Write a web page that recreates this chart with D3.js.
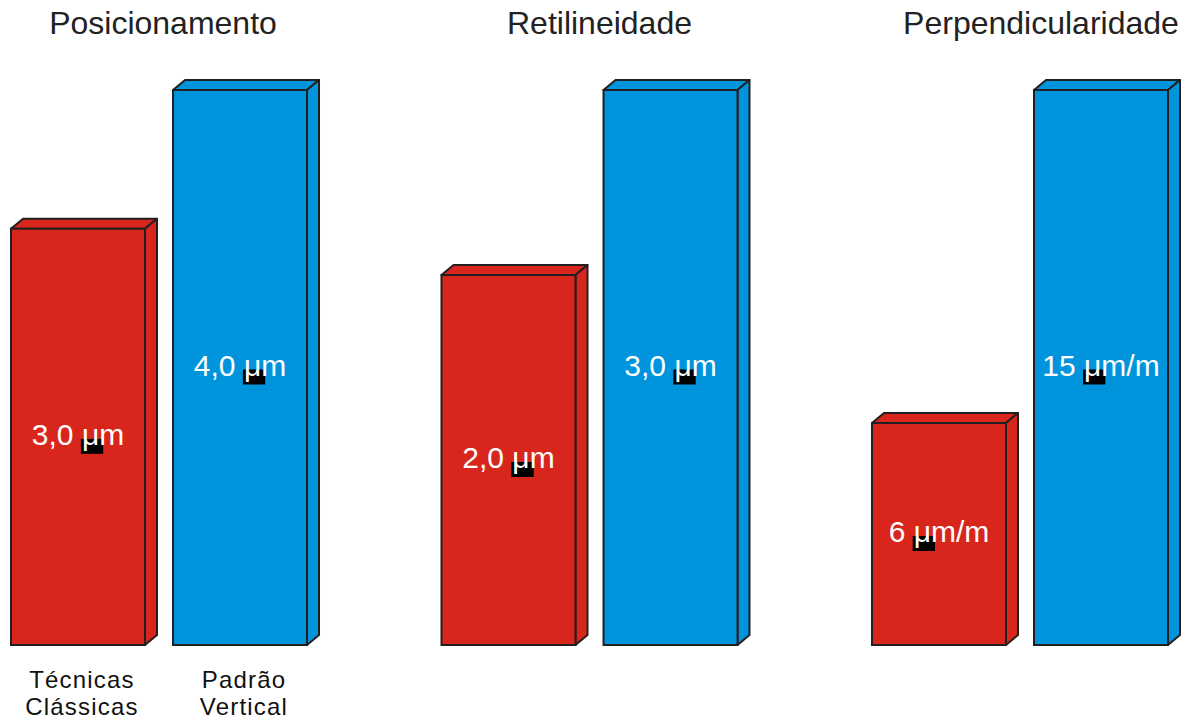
<!DOCTYPE html>
<html>
<head>
<meta charset="utf-8">
<script src="https://cdn.jsdelivr.net/npm/d3@7"></script>
<style>
  body { margin: 0; background: #fff; }
  text { font-family: Arial, "Liberation Sans", sans-serif; }
</style>
</head>
<body>
<div id="chart"></div>
<script>
// dados
const groups = ['Posicionamento', 'Retilineidade', 'Perpendicularidade']
const series = ['Técnicas Clássicas', 'Padrão Vertical']
const classicValues = [3, 2, 6]
const verticalValues = [4, 3, 15]
const classicLabels = ['3,0', '2,0', '6']
const verticalLabels = ['4,0', '3,0', '15']
const units = ['μm', 'μm', 'μm/m']

const width = 1196
const height = 726
const baseY = 645
const topY = 90
const dx = 12, dy = 10
const colors = ['#d9261d', '#0094dc']
const titleShift = [-2, 4, 15]

const svg = d3.select('#chart').append('svg')
  .attr('width', width)
  .attr('height', height)

// escalas
const x0 = d3.scaleBand(groups, [11, 1168]).paddingInner(0.3124)
const x1 = d3.scaleBand(series, [0, x0.bandwidth()]).paddingInner(0.173)

groups.forEach((gName, gi) => {
  // cada grupo tem a sua escala (a barra azul ocupa toda a altura)
  const y = d3.scaleLinear([0, verticalValues[gi]], [baseY, topY])
  const vals = [classicValues[gi], verticalValues[gi]]
  const labs = [classicLabels[gi], verticalLabels[gi]]
  const g = svg.append('g').attr('transform', `translate(${x0(gName)},0)`)

  g.append('text')
    .attr('x', (x0.bandwidth() + dx) / 2 + titleShift[gi])
    .attr('y', 34)
    .attr('text-anchor', 'middle')
    .attr('font-size', 32)
    .attr('fill', '#222')
    .text(gName)

  series.forEach((s, si) => {
    const bx = x1(s)
    const bw = x1.bandwidth()
    const by = y(vals[si])
    const bar = g.append('g')
    // topo
    bar.append('path')
      .attr('d', `M${bx},${by}L${bx + dx},${by - dy}L${bx + bw + dx},${by - dy}L${bx + bw},${by}Z`)
      .attr('fill', colors[si]).attr('stroke', '#231f20').attr('stroke-width', 2).attr('stroke-linejoin', 'round')
    // lado
    bar.append('path')
      .attr('d', `M${bx + bw},${by}L${bx + bw + dx},${by - dy}L${bx + bw + dx},${baseY - dy}L${bx + bw},${baseY}Z`)
      .attr('fill', colors[si]).attr('stroke', '#231f20').attr('stroke-width', 2).attr('stroke-linejoin', 'round')
    // frente
    bar.append('rect')
      .attr('x', bx).attr('y', by)
      .attr('width', bw).attr('height', baseY - by)
      .attr('fill', colors[si]).attr('stroke', '#231f20').attr('stroke-width', 2)

    const lblY = (by + baseY) / 2 + 8
    const boxG = bar.append('g')
    const t = bar.append('text')
      .attr('x', bx + bw / 2)
      .attr('y', lblY)
      .attr('text-anchor', 'middle')
      .attr('font-size', 30)
      .attr('fill', '#fff')
    t.append('tspan').text(labs[si] + ' ')
    t.append('tspan').text(units[gi])
    // caixa preta atrás do "μ" (como no original)
    const idx = labs[si].length + 1
    const ext = t.node().getExtentOfChar(idx)
    boxG.append('rect')
      .attr('x', ext.x - 1)
      .attr('y', lblY - 6)
      .attr('width', ext.width + 5)
      .attr('height', 15)
      .attr('fill', '#000')
  })

  // rótulos das séries (só no primeiro grupo)
  if (gi === 0) {
    series.forEach(s => {
      const words = s.split(' ')
      const t = g.append('text')
        .attr('text-anchor', 'middle')
        .attr('font-size', 24)
        .attr('letter-spacing', 1.2)
        .attr('fill', '#111')
      words.forEach((w, wi) => {
        t.append('tspan')
          .attr('x', x1(s) + x1.bandwidth() / 2 + 4)
          .attr('y', 688 + wi * 27)
          .text(w)
      })
    })
  }
})
</script>
</body>
</html>
